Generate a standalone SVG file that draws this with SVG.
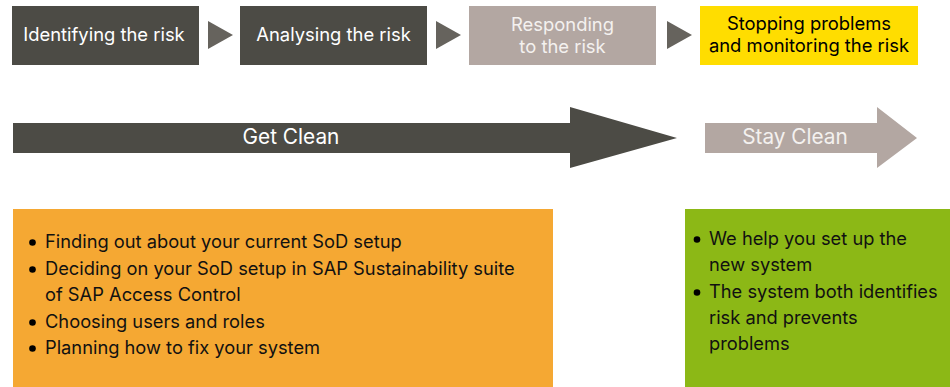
<svg xmlns="http://www.w3.org/2000/svg" width="950" height="387" viewBox="0 0 950 387">
<style>
text{font-family:Inter,"Noto Sans","Liberation Sans",sans-serif;}
.box{font-size:18.4px;text-anchor:middle;}
.w{fill:#ffffff;}
.lt{fill:#f4f1ef;}
.k{fill:#000000;}
.big{font-size:20.8px;text-anchor:middle;}
.li{font-size:18.3px;fill:#111111;}
.dark{fill:#4c4b45;}
.grey{fill:#b3a7a2;}
.tri{fill:#66635d;}
</style>
<rect width="950" height="387" fill="#ffffff"/>
<g id="step1">
<rect class="dark" x="12" y="6" width="187" height="59"/>
<text class="box w" x="104" y="41">Identifying the risk</text>
</g>
<g id="step2">
<rect class="dark" x="240" y="6" width="187" height="59"/>
<text class="box w" x="333.5" y="41">Analysing the risk</text>
</g>
<g id="step3">
<rect class="grey" x="469" y="6" width="187" height="59"/>
<text class="box lt" x="562.5" y="31">Responding</text>
<text class="box lt" x="562.5" y="53">to the risk</text>
</g>
<g id="step4">
<rect x="700" y="6" width="218" height="59" fill="#ffdd00"/>
<text class="box k" x="809" y="30">Stopping problems</text>
<text class="box k" x="809" y="52">and monitoring the risk</text>
</g>
<g id="connectors">
<polygon class="tri" points="208,21 233,35 208,49"/>
<polygon class="tri" points="436,21 461,35 436,49"/>
<polygon class="tri" points="667,21 692,35 667,49"/>
</g>
<g id="get-clean">
<polygon class="dark" points="13,123 570,123 570,107 677,138 570,168 570,153 13,153"/>
<text class="big w" x="291" y="144">Get Clean</text>
</g>
<g id="stay-clean">
<polygon class="grey" points="705,123 877,123 877,107 917,138 877,168 877,153 705,153"/>
<text class="big lt" x="795" y="144">Stay Clean</text>
</g>
<g id="get-clean-tasks">
<rect x="13" y="209" width="540" height="178" fill="#f5a833"/>
<circle cx="32.5" cy="242.5" r="3.3" fill="#000"/>
<circle cx="32.5" cy="269.5" r="3.3" fill="#000"/>
<circle cx="32.5" cy="322.5" r="3.3" fill="#000"/>
<circle cx="32.5" cy="348.5" r="3.3" fill="#000"/>
<text class="li" x="45" y="248">Finding out about your current SoD setup</text>
<text class="li" x="45" y="275">Deciding on your SoD setup in SAP Sustainability suite</text>
<text class="li" x="45" y="301">of SAP Access Control</text>
<text class="li" x="45" y="328">Choosing users and roles</text>
<text class="li" x="45" y="354">Planning how to fix your system</text>
</g>
<g id="stay-clean-tasks">
<rect x="685" y="209" width="265" height="178" fill="#8cb816"/>
<circle cx="697" cy="239.5" r="3.3" fill="#000"/>
<circle cx="697" cy="292.5" r="3.3" fill="#000"/>
<text class="li" x="709" y="245">We help you set up the</text>
<text class="li" x="709" y="271">new system</text>
<text class="li" x="709" y="298">The system both identifies</text>
<text class="li" x="709" y="324">risk and prevents</text>
<text class="li" x="709" y="350">problems</text>
</g>
</svg>
